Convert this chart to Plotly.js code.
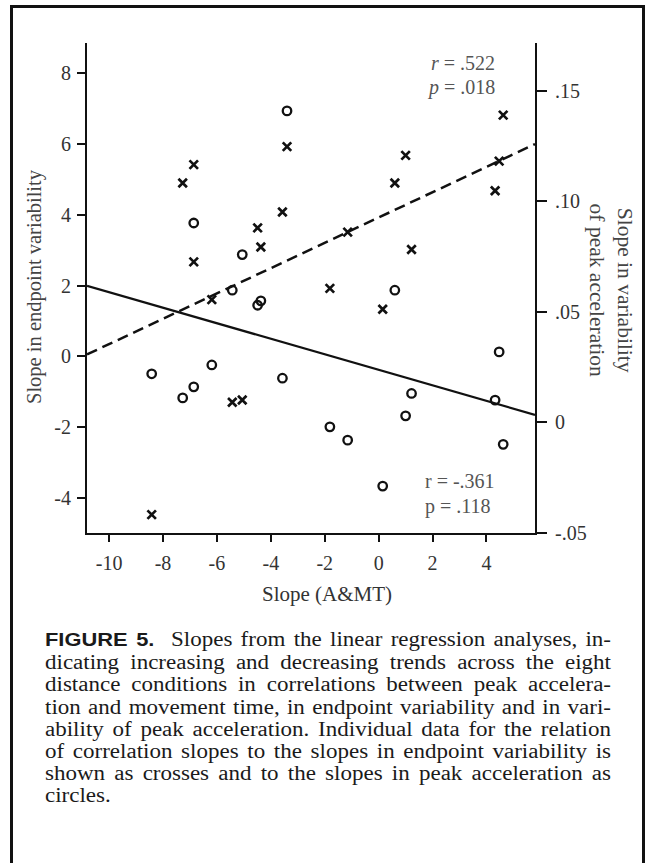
<!DOCTYPE html>
<html>
<head>
<meta charset="utf-8">
<script src="https://cdn.plot.ly/plotly-3.0.1.min.js"></script>
<style>
  html, body { margin: 0; padding: 0; background: #fff; width: 648px; height: 863px; overflow: hidden; }
  #frame { position: absolute; left: 10px; top: 5px; width: 635px; height: 900px; border: 3px solid #111; box-sizing: border-box; }
  #chart { position: absolute; left: 0; top: 0; width: 648px; height: 863px; }
  #caption { position: absolute; left: 45px; top: 628px; font-family: "Liberation Serif", "Times New Roman", serif; font-size: 20px; line-height: 22.2px; color: #1a1a1a; }
  #caption .ln { width: 492.2px; transform: scaleX(1.15); transform-origin: 0 0; text-align: justify; text-align-last: justify; white-space: nowrap; }
  #caption .ln.last { text-align-last: left; }
  #caption b { font-family: "Liberation Sans", Arial, sans-serif; font-weight: bold; font-size: 19px; }
</style>
</head>
<body>
<div id="frame"></div>
<div id="chart"></div>
<div id="caption"></div>
<script>
// ---- data ----
const slopeAMT      = [-8.42, -7.27, -6.86, -6.86, -6.19, -5.43, -5.06, -4.49, -4.37, -3.57, -3.40, -1.81, -1.15, 0.15, 0.60, 1.00, 1.22, 4.32, 4.47, 4.62];
const endpointSlope = [-4.48, 4.90, 5.42, 2.67, 1.60, -1.30, -1.24, 3.63, 3.09, 4.08, 5.93, 1.92, 3.51, 1.33, 4.90, 5.68, 3.02, 4.68, 5.52, 6.82];
const peakAccSlope  = [0.0220, 0.0111, 0.0902, 0.0161, 0.0260, 0.0598, 0.0759, 0.0530, 0.0550, 0.0200, 0.1409, -0.0020, -0.0080, -0.0288, 0.0598, 0.0030, 0.0131, 0.0101, 0.0319, -0.0099];

const fitX          = [-10.82, 5.80];
const endpointFitY  = [0.05, 6.0];
const peakFitY      = [0.0618, 0.0034];

const xTickVals  = [-10, -8, -6, -4, -2, 0, 2, 4];
const xTickText  = ['-10', '-8', '-6', '-4', '-2', '0', '2', '4'];
const yTickVals  = [-4, -2, 0, 2, 4, 6, 8];
const yTickText  = ['-4', '-2', '0', '2', '4', '6', '8'];
const y2TickVals = [-0.05, 0, 0.05, 0.10, 0.15];
const y2TickText = ['-.05', '0', '.05', '.10', '.15'];

const captionLines = [
  '<b>FIGURE 5.</b>&nbsp; Slopes from the linear regression analyses, in-',
  'dicating increasing and decreasing trends across the eight',
  'distance conditions in correlations between peak accelera-',
  'tion and movement time, in endpoint variability and in vari-',
  'ability of peak acceleration. Individual data for the relation',
  'of correlation slopes to the slopes in endpoint variability is',
  'shown as crosses and to the slopes in peak acceleration as',
  'circles.'
];

// ---- chart ----
const serif = '"Liberation Serif", "Times New Roman", serif';

const traces = [
  {
    x: fitX, y: endpointFitY, type: 'scatter', mode: 'lines',
    line: { color: '#111', width: 2.5, dash: '11px,6px' }, yaxis: 'y', hoverinfo: 'skip'
  },
  {
    x: fitX, y: peakFitY, type: 'scatter', mode: 'lines',
    line: { color: '#111', width: 2.2 }, yaxis: 'y2', hoverinfo: 'skip'
  },
  {
    x: slopeAMT, y: endpointSlope, type: 'scatter', mode: 'markers', yaxis: 'y',
    marker: { symbol: 'x-thin-open', size: 8.5, color: '#111', line: { color: '#111', width: 2.7 } }
  },
  {
    x: slopeAMT, y: peakAccSlope, type: 'scatter', mode: 'markers', yaxis: 'y2',
    marker: { symbol: 'circle-open', size: 8.5, color: '#111', line: { color: '#111', width: 2.3 } }
  }
];

const tickFont = { family: serif, size: 20, color: '#333' };

const layout = {
  width: 648, height: 863,
  margin: { l: 87.3, r: 112.7, t: 42.7, b: 330.3, pad: 0 },
  paper_bgcolor: 'rgba(0,0,0,0)', plot_bgcolor: 'rgba(0,0,0,0)',
  showlegend: false,
  xaxis: {
    range: [-10.82, 5.80], tickmode: 'array', tickvals: xTickVals, ticktext: xTickText,
    ticks: 'outside', ticklen: 7, tickwidth: 2, tickcolor: '#111',
    showline: true, linewidth: 2, linecolor: '#111', mirror: false,
    showgrid: false, zeroline: false, tickfont: tickFont, ticklabelstandoff: 4
  },
  yaxis: {
    range: [-5, 8.86], tickmode: 'array', tickvals: yTickVals, ticktext: yTickText,
    ticks: 'outside', ticklen: 8, tickwidth: 2, tickcolor: '#111',
    showline: true, linewidth: 2, linecolor: '#111',
    showgrid: false, zeroline: false, tickfont: tickFont, ticklabelstandoff: 2
  },
  yaxis2: {
    range: [-0.05, 0.1716], overlaying: 'y', side: 'right', anchor: 'x',
    tickmode: 'array', tickvals: y2TickVals, ticktext: y2TickText,
    ticks: 'outside', ticklen: 10, tickwidth: 2, tickcolor: '#111',
    showline: true, linewidth: 2, linecolor: '#111',
    showgrid: false, zeroline: false, tickfont: tickFont, ticklabelstandoff: 4
  },
  annotations: [
    { xref: 'paper', yref: 'paper', x: (327.5 - 87.3) / 448, y: (532.7 - 594) / 490,
      text: 'Slope (A&amp;MT)', showarrow: false, xanchor: 'center', yanchor: 'middle',
      font: { family: serif, size: 21, color: '#333' } },
    { xref: 'paper', yref: 'paper', x: (35 - 87.3) / 448, y: (532.7 - 286) / 490,
      text: 'Slope in endpoint variability', showarrow: false, textangle: -90,
      xanchor: 'center', yanchor: 'middle', font: { family: serif, size: 20.5, color: '#444' } },
    { xref: 'paper', yref: 'paper', x: (611 - 87.3) / 448, y: (532.7 - 290) / 490,
      text: 'Slope in variability<br>of peak acceleration', showarrow: false, textangle: 90,
      xanchor: 'center', yanchor: 'middle', font: { family: serif, size: 21.5, color: '#444' } },
    { xref: 'paper', yref: 'paper', x: (497 - 87.3) / 448, y: (532.7 - 63) / 490,
      text: '<i>r</i> = .522', showarrow: false, xanchor: 'right', yanchor: 'middle',
      font: { family: serif, size: 20, color: '#555' } },
    { xref: 'paper', yref: 'paper', x: (497 - 87.3) / 448, y: (532.7 - 87) / 490,
      text: '<i>p</i> = .018', showarrow: false, xanchor: 'right', yanchor: 'middle',
      font: { family: serif, size: 20, color: '#555' } },
    { xref: 'paper', yref: 'paper', x: (423 - 87.3) / 448, y: (532.7 - 481) / 490,
      text: 'r = -.361', showarrow: false, xanchor: 'left', yanchor: 'middle',
      font: { family: serif, size: 20, color: '#555' } },
    { xref: 'paper', yref: 'paper', x: (423 - 87.3) / 448, y: (532.7 - 506) / 490,
      text: 'p = .118', showarrow: false, xanchor: 'left', yanchor: 'middle',
      font: { family: serif, size: 20, color: '#555' } }
  ]
};

Plotly.newPlot('chart', traces, layout, { staticPlot: true, displayModeBar: false });

// ---- caption ----
const cap = document.getElementById('caption');
captionLines.forEach((t, i) => {
  const d = document.createElement('div');
  d.className = 'ln' + (i === captionLines.length - 1 ? ' last' : '');
  d.innerHTML = t;
  cap.appendChild(d);
});
</script>
</body>
</html>
